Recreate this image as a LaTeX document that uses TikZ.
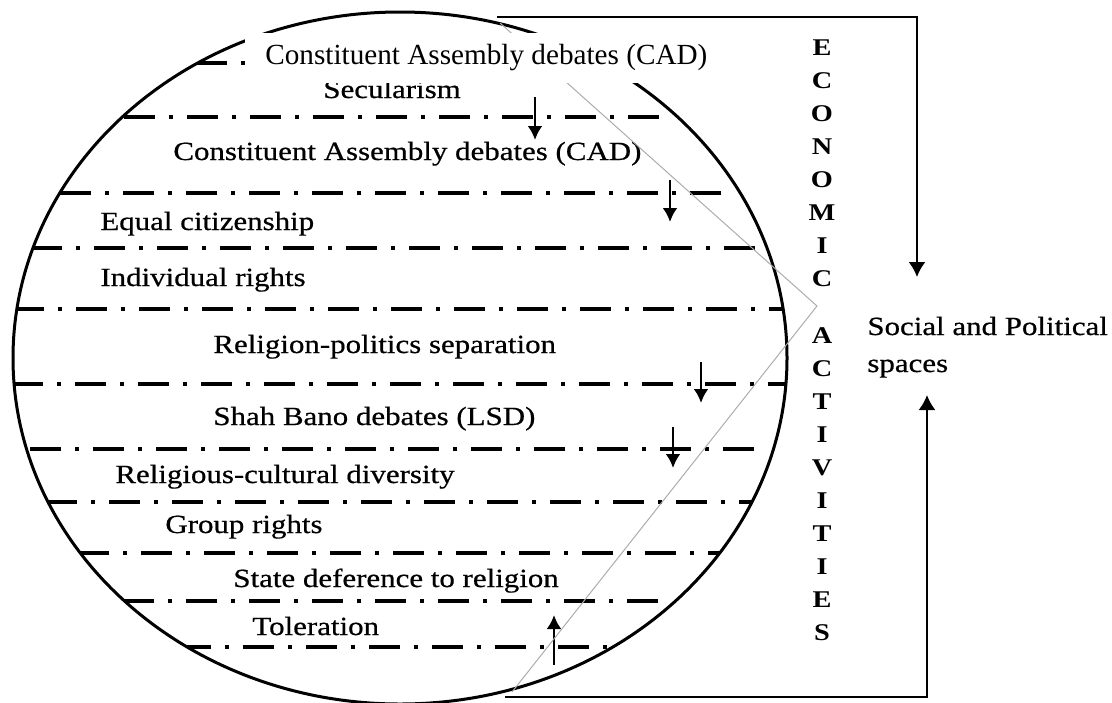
\documentclass[tikz,border=0pt]{standalone}
\usepackage{fontspec}
\setmainfont{Liberation Serif}
\newfontfamily\labelfont[FakeStretch=1.18,FakeBold=0.6]{Liberation Serif}
\newfontfamily\letterfont[FakeStretch=1.18]{Liberation Serif}
\usetikzlibrary{arrows.meta}

\begin{document}
\begin{tikzpicture}[
  x=0.5pt,
  y=-0.5pt
]

  \path[use as bounding box] (0,0) rectangle (1112,702);

  \tikzstyle{divline}=[line width=1.65pt,dash pattern=on 15.5pt off 7pt on 2pt off 7pt]
  \tikzstyle{ovalline}=[line width=1.5pt]
  \tikzstyle{conceptlab}=[anchor=base west,inner sep=0pt,font=\labelfont\fontsize{13.1}{15}\selectfont]
  \tikzstyle{lettercol}=[anchor=north,inner sep=0pt,align=center,font=\letterfont\bfseries\fontsize{12}{16.5}\selectfont]
  \tikzstyle{pointer}=[draw,->,>={Latex[length=7pt,width=7.5pt]},line width=1.45pt]
  \tikzstyle{bracketptr}=[draw,->,>={Latex[length=7.5pt,width=8.5pt]},line width=1pt]
  \tikzstyle{cutline}=[draw,gray!65,line width=0.5pt]
  \tikzstyle{capbox}=[anchor=west,fill=white,inner xsep=10pt,inner ysep=0pt,minimum height=25pt,font=\fontsize{14.6}{17}\selectfont]

  % dash-dot bands
  \begin{scope}
    \clip (400,358) ellipse [x radius=387, y radius=346];
    \draw[divline] (196,63)  -- (602,63);
    \draw[divline] (124,117) -- (670,117);
    \draw[divline] (60,193)  -- (730,193);
    \draw[divline] (31,248)  -- (763,248);
    \draw[divline] (13,309)  -- (790,309);
    \draw[divline] (12,384)  -- (790,384);
    \draw[divline] (30,449)  -- (762,449);
    \draw[divline] (46,502)  -- (755,502);
    \draw[divline] (78,553)  -- (725,553);
    \draw[divline] (123,601) -- (670,601);
    \draw[divline] (180,647) -- (620,647);
  \end{scope}

  % oval
  \draw[ovalline] (400,358) ellipse [x radius=387, y radius=346];

  % labels
  \node[conceptlab] (secular)  at (323,98)  {Secularism};
  \node[conceptlab] (cadin)    at (173,160) {Constituent Assembly debates (CAD)};
  \node[conceptlab] (equal)    at (100,230) {Equal citizenship};
  \node[conceptlab] (indiv)    at (100,286) {Individual rights};
  \node[conceptlab] (relpol)   at (213,353) {Religion-politics separation};
  \node[conceptlab] (shahbano) at (213,425) {Shah Bano debates (LSD)};
  \node[conceptlab] (divers)   at (115,483) {Religious-cultural diversity};
  \node[conceptlab] (group)    at (165,533) {Group rights};
  \node[conceptlab] (defer)    at (233,587) {State deference to religion};
  \node[conceptlab] (toler)    at (252,635) {Toleration};

  \node[conceptlab] (social)   at (867,335) {Social and Political};
  \node[conceptlab] (spaces)   at (867,372) {spaces};

  \node[lettercol] (econ)  at (822,39)  {E\\C\\O\\N\\O\\M\\I\\C};
  \node[lettercol] (activ) at (822,327) {A\\C\\T\\I\\V\\I\\T\\I\\E\\S};

  % short arrows
  \coordinate (d1a) at (535,97);  \coordinate (d1b) at (535,140);
  \coordinate (d2a) at (670,180); \coordinate (d2b) at (670,222);
  \coordinate (d3a) at (701,362); \coordinate (d3b) at (701,403);
  \coordinate (d4a) at (673,427); \coordinate (d4b) at (673,468);
  \coordinate (u1a) at (554,665); \coordinate (u1b) at (554,615);

  \draw[pointer] (d1a) -- (d1b);
  \draw[pointer] (d2a) -- (d2b);
  \draw[pointer] (d3a) -- (d3b);
  \draw[pointer] (d4a) -- (d4b);
  \draw[pointer] (u1a) -- (u1b);

  % grey wedge
  \coordinate (vtop) at (500,23);
  \coordinate (vtip) at (817,306);
  \coordinate (vbot) at (512,692);
  \draw[cutline] (vtop) -- (vtip) -- (vbot);

  % outer brackets
  \coordinate (ovaltop)   at (497,17);
  \coordinate (toparrow)  at (917,277);
  \coordinate (ovalbase)  at (505,697);
  \coordinate (basearrow) at (927,395);
  \draw[bracketptr] (ovaltop) -| (toparrow);
  \draw[bracketptr] (ovalbase) -| (basearrow);

  % title strip over the oval
  \node[capbox] (cadtop) at (245,58) {Constituent Assembly debates (CAD)};

\end{tikzpicture}
\end{document}
